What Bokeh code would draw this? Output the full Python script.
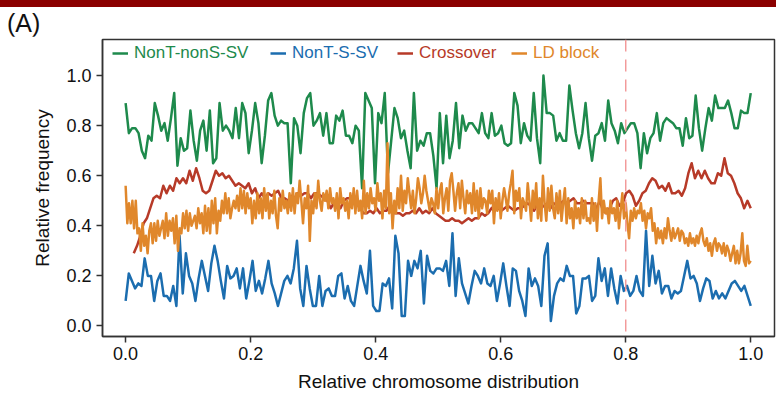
from bokeh.plotting import figure
from bokeh.layouts import column
from bokeh.models import (Range1d, Span, Legend, LegendItem, Div,
                          FixedTicker, NumeralTickFormatter)
from bokeh.embed import file_html
from bokeh.resources import INLINE
import numpy as np

# Relative frequency along the chromosome (0 = start, 1 = end)
nont_nons_sv = [
    0.89, 0.77, 0.79, 0.79, 0.77, 0.70, 0.67, 0.76, 0.74, 0.89, 0.84, 0.78, 0.81, 0.74, 0.83, 0.93,
    0.64, 0.75, 0.70, 0.71, 0.86, 0.74, 0.66, 0.78, 0.82, 0.70, 0.86, 0.65, 0.67, 0.89, 0.78, 0.80,
    0.78, 0.75, 0.87, 0.75, 0.89, 0.85, 0.69, 0.78, 0.89, 0.81, 0.65, 0.76, 0.90, 0.93, 0.84, 0.80,
    0.82, 0.81, 0.81, 0.57, 0.83, 0.80, 0.69, 0.85, 0.91, 0.93, 0.80, 0.82, 0.85, 0.76, 0.85, 0.73,
    0.73, 0.84, 0.82,
    0.86, 0.76, 0.76, 0.73, 0.80, 0.78, 0.55, 0.93, 0.90, 0.87, 0.57, 0.85, 0.81, 0.93, 0.61, 0.74,
    0.87, 0.83, 0.75, 0.78, 0.70, 0.63, 0.93, 0.70, 0.74, 0.72, 0.77, 0.77, 0.68, 0.55, 0.85, 0.65,
    0.84, 0.67, 0.74, 0.89, 0.71, 0.84, 0.78, 0.81, 0.81, 0.79, 0.77, 0.85, 0.77, 0.75, 0.85, 0.76,
    0.77, 0.80, 0.73, 0.72, 0.73, 0.93, 0.88, 0.73, 0.81, 0.76, 0.74, 0.93, 0.75, 0.65, 1.00, 0.85,
    0.85, 0.84, 0.74, 0.77, 0.74, 0.74, 0.96, 0.86, 0.77, 0.71, 0.77, 0.89,
    0.75, 0.66, 0.76, 0.77, 0.81, 0.74, 0.90, 0.81, 0.78, 0.73, 0.81, 0.77, 0.79, 0.81, 0.81, 0.77,
    0.63, 0.77, 0.69, 0.75, 0.77, 0.85, 0.74, 0.81, 0.83, 0.82, 0.81, 0.79, 0.79, 0.72, 0.83, 0.75,
    0.76, 0.92, 0.79, 0.70, 0.79, 0.87, 0.82, 0.92, 0.87, 0.87, 0.87, 0.90, 0.85, 0.79, 0.79, 0.86,
    0.85, 0.85, 0.93,
]

nont_s_sv = [
    0.10, 0.21, 0.18, 0.15, 0.17, 0.16, 0.27, 0.20, 0.20, 0.10, 0.18, 0.21, 0.12, 0.12, 0.10, 0.16,
    0.08, 0.36, 0.13, 0.29, 0.20, 0.17, 0.10, 0.19, 0.26, 0.20, 0.14, 0.25, 0.32, 0.26, 0.18, 0.11,
    0.24, 0.19, 0.20, 0.23, 0.15, 0.23, 0.11, 0.18, 0.26, 0.14, 0.18, 0.13, 0.19, 0.26, 0.17, 0.13,
    0.08, 0.13, 0.18, 0.20, 0.17, 0.23, 0.34, 0.15, 0.08, 0.24, 0.15, 0.08, 0.08, 0.20, 0.08, 0.14,
    0.15, 0.12, 0.12, 0.20, 0.21, 0.11, 0.16,
    0.10, 0.08, 0.16, 0.24, 0.18, 0.13, 0.30, 0.08, 0.06, 0.06, 0.17, 0.16, 0.19, 0.07, 0.36, 0.29,
    0.04, 0.04, 0.26, 0.20, 0.26, 0.23, 0.30, 0.09, 0.28, 0.22, 0.21, 0.23, 0.23, 0.22, 0.26, 0.16,
    0.37, 0.12, 0.27, 0.17, 0.13, 0.09, 0.16, 0.22, 0.20, 0.17, 0.23, 0.17, 0.16, 0.20, 0.10, 0.17,
    0.25, 0.16, 0.08, 0.23, 0.22, 0.14, 0.10, 0.04, 0.23, 0.16, 0.19, 0.16, 0.08, 0.28, 0.33, 0.02,
    0.12, 0.17, 0.19, 0.18, 0.24, 0.20, 0.20, 0.05, 0.08, 0.19, 0.19, 0.20, 0.10,
    0.12, 0.27, 0.18, 0.23, 0.12, 0.23, 0.15, 0.09, 0.20, 0.14, 0.16, 0.12, 0.14, 0.20, 0.14, 0.12,
    0.38, 0.16, 0.28, 0.17, 0.22, 0.13, 0.16, 0.16, 0.11, 0.14, 0.13, 0.14, 0.20, 0.26, 0.19, 0.20,
    0.17, 0.10, 0.15, 0.19, 0.18, 0.11, 0.14, 0.11, 0.13, 0.11, 0.14, 0.17, 0.18, 0.16, 0.14, 0.16,
    0.12, 0.08,
]

crossover_start = 0.013
crossover = [
    0.29, 0.32, 0.36, 0.41, 0.43, 0.47, 0.51, 0.52, 0.51, 0.56, 0.53, 0.56, 0.54, 0.59, 0.57, 0.59,
    0.57, 0.62, 0.58, 0.63, 0.59, 0.54, 0.53, 0.54, 0.58, 0.62, 0.60, 0.61, 0.59, 0.60, 0.58, 0.56,
    0.57, 0.56, 0.55, 0.57, 0.53, 0.55, 0.51, 0.53, 0.51, 0.53, 0.52, 0.53, 0.54, 0.51, 0.51, 0.50,
    0.52, 0.51, 0.53, 0.52, 0.53, 0.53, 0.51, 0.53, 0.53, 0.52, 0.51, 0.50, 0.47, 0.49, 0.49, 0.47,
    0.50, 0.51, 0.51,
    0.51, 0.49, 0.47, 0.45, 0.45, 0.46, 0.45, 0.47, 0.45, 0.46, 0.46, 0.48, 0.45, 0.45, 0.45, 0.44,
    0.45, 0.45, 0.46, 0.45, 0.47, 0.45, 0.46, 0.45, 0.47, 0.45, 0.44, 0.43, 0.42, 0.42, 0.43, 0.42,
    0.42, 0.41, 0.42, 0.43, 0.42, 0.43, 0.43, 0.45, 0.44, 0.45, 0.47, 0.48, 0.47, 0.46, 0.47, 0.48,
    0.47, 0.46, 0.47, 0.47, 0.48, 0.49, 0.48, 0.46, 0.49, 0.47, 0.48, 0.49, 0.47, 0.49, 0.48, 0.49,
    0.50, 0.49, 0.50, 0.51, 0.49, 0.49, 0.50, 0.49,
    0.49, 0.49, 0.47, 0.50, 0.46, 0.45, 0.47, 0.50, 0.51, 0.48, 0.49, 0.53, 0.54, 0.52, 0.48, 0.50,
    0.53, 0.54, 0.57, 0.59, 0.58, 0.55, 0.56, 0.54, 0.57, 0.53, 0.53, 0.54, 0.52, 0.55, 0.61, 0.65,
    0.59, 0.62, 0.59, 0.62, 0.59, 0.57, 0.57, 0.61, 0.60, 0.67, 0.61, 0.60, 0.57, 0.53, 0.51, 0.47,
    0.50, 0.47,
]

ld_block = [
    0.56, 0.41, 0.49, 0.41, 0.50, 0.39, 0.50, 0.37, 0.39, 0.30, 0.41, 0.32, 0.36, 0.29, 0.38, 0.41,
    0.33, 0.41, 0.34, 0.42, 0.36, 0.39, 0.42, 0.35, 0.45, 0.36, 0.42, 0.38, 0.43, 0.33, 0.44, 0.30,
    0.39, 0.37, 0.45, 0.39, 0.46, 0.38, 0.45, 0.40, 0.42, 0.44, 0.39, 0.47, 0.41, 0.45, 0.37, 0.48,
    0.38, 0.47, 0.37, 0.50, 0.41, 0.51, 0.37, 0.46, 0.42, 0.50, 0.45, 0.53, 0.45, 0.51, 0.43, 0.47,
    0.50, 0.47, 0.52, 0.46, 0.55, 0.47, 0.54, 0.45, 0.53, 0.47, 0.51, 0.41, 0.50, 0.43, 0.53, 0.45,
    0.51, 0.43, 0.55, 0.46, 0.53, 0.43, 0.50, 0.45, 0.54, 0.44, 0.39, 0.51, 0.46, 0.54, 0.47, 0.50,
    0.45, 0.53, 0.46, 0.55, 0.45, 0.53, 0.49, 0.58, 0.50, 0.41, 0.51, 0.47, 0.56, 0.34, 0.50, 0.45,
    0.53, 0.47, 0.58, 0.50, 0.46, 0.53, 0.50, 0.54, 0.47, 0.55, 0.49, 0.51, 0.46, 0.53, 0.43, 0.55,
    0.49,
    0.51, 0.46, 0.50, 0.43, 0.53, 0.47, 0.55, 0.45, 0.54, 0.46, 0.50, 0.43, 0.58, 0.45, 0.53, 0.47,
    0.55, 0.49, 0.51, 0.46, 0.57, 0.50, 0.53, 0.43, 0.54, 0.47, 0.73, 0.45, 0.53, 0.39, 0.50, 0.45,
    0.55, 0.47, 0.60, 0.46, 0.54, 0.49, 0.59, 0.53, 0.47, 0.54, 0.45, 0.51, 0.59, 0.55, 0.49, 0.53,
    0.60, 0.54, 0.50, 0.46, 0.51, 0.49, 0.45, 0.55, 0.47, 0.54, 0.57, 0.45, 0.51, 0.55, 0.46, 0.58,
    0.61, 0.54, 0.46, 0.53, 0.57, 0.47, 0.58, 0.51, 0.45, 0.54, 0.49, 0.53, 0.45, 0.57, 0.46, 0.54,
    0.43, 0.55, 0.47, 0.51, 0.50, 0.45, 0.54, 0.49, 0.54, 0.41, 0.51, 0.46, 0.53, 0.43, 0.50, 0.55,
    0.51, 0.46, 0.53, 0.57, 0.62, 0.45, 0.54, 0.50, 0.55, 0.43, 0.51, 0.49, 0.46, 0.57, 0.50, 0.42,
    0.54, 0.47, 0.57, 0.43, 0.51, 0.42, 0.60, 0.49, 0.42, 0.55, 0.46, 0.56, 0.47, 0.43, 0.53, 0.45,
    0.54, 0.42, 0.49, 0.55, 0.41, 0.51, 0.43, 0.47, 0.39, 0.50, 0.43, 0.47, 0.41, 0.51, 0.43, 0.50,
    0.42,
    0.43, 0.41, 0.51, 0.42, 0.49, 0.38, 0.50, 0.59, 0.43, 0.50, 0.45, 0.47, 0.41, 0.50, 0.45, 0.47,
    0.42, 0.50, 0.39, 0.46, 0.53, 0.43, 0.49, 0.41, 0.35, 0.46, 0.42, 0.47, 0.43, 0.46, 0.45, 0.49,
    0.42, 0.46, 0.39, 0.45, 0.43, 0.47, 0.38, 0.41, 0.33, 0.39, 0.35, 0.38, 0.33, 0.39, 0.35, 0.43,
    0.38, 0.34, 0.39, 0.35, 0.37, 0.39, 0.34, 0.38, 0.37, 0.33, 0.35, 0.32, 0.37, 0.33, 0.35, 0.32,
    0.36, 0.33, 0.37, 0.39, 0.34, 0.32, 0.35, 0.30, 0.33, 0.28, 0.33, 0.35, 0.30, 0.33, 0.32, 0.29,
    0.33, 0.28, 0.32, 0.30, 0.26, 0.29, 0.32, 0.25, 0.30, 0.25, 0.29, 0.37, 0.26, 0.24, 0.32, 0.25,
    0.26,
]

series_names = ["NonT-nonS-SV", "NonT-S-SV", "Crossover", "LD block"]
series_colors = ["#1E8A4C", "#1B6DAF", "#B73A28", "#E0872B"]
axis_ticks = [0.0, 0.2, 0.4, 0.6, 0.8, 1.0]
boundary = 0.8
panel_tag = "(A)"

FONT = "Liberation Sans"

fig = figure(width=776, height=359, output_backend="svg", toolbar_location=None,
             x_range=Range1d(-0.037, 1.038), y_range=Range1d(-0.042, 1.144),
             min_border_left=102, min_border_right=2, min_border_top=3, min_border_bottom=59,
             background_fill_color="white", border_fill_color="white", margin=(0, 0, 0, 0))
fig.grid.visible = False
fig.outline_line_color = "#333333"
fig.outline_line_width = 1.5

for ax in (fig.xaxis, fig.yaxis):
    ax.ticker = FixedTicker(ticks=axis_ticks)
    ax.formatter = NumeralTickFormatter(format="0.0")
    ax.axis_line_color = "#333333"
    ax.axis_line_width = 1.5
    ax.major_tick_line_color = "#333333"
    ax.major_tick_line_width = 1.5
    ax.major_tick_out = 6
    ax.major_tick_in = 0
    ax.minor_tick_line_color = None
    ax.major_label_text_font = FONT
    ax.major_label_text_font_size = "18px"
    ax.major_label_text_color = "#111111"
    ax.axis_label_text_font = FONT
    ax.axis_label_text_font_size = "19px"
    ax.axis_label_text_font_style = "normal"
    ax.axis_label_text_color = "#111111"

fig.xaxis.axis_label = "Relative chromosome distribution"
fig.yaxis.axis_label = "Relative frequency"
fig.xaxis.major_label_standoff = 4
fig.yaxis.major_label_standoff = 5
fig.xaxis.axis_label_standoff = 8
fig.yaxis.axis_label_standoff = 10

xs = [
    np.linspace(0.0, 1.0, len(nont_nons_sv)),
    np.linspace(0.0, 1.0, len(nont_s_sv)),
    np.linspace(crossover_start, 1.0, len(crossover)),
    np.linspace(0.0, 1.0, len(ld_block)),
]
ys = [nont_nons_sv, nont_s_sv, crossover, ld_block]

renderers = []
for x, y, col in zip(xs, ys, series_colors):
    renderers.append(fig.line(x, y, line_color=col, line_width=2.5, line_join="round"))

fig.add_layout(Span(location=boundary, dimension="height", line_color="#F29A9A",
                    line_width=1.5, line_dash="12 8"))

legend_x = [10, 168, 295, 409]
for r, name, col, lx in zip(renderers, series_names, series_colors, legend_x):
    leg = Legend(items=[LegendItem(label=name, renderers=[r])], location=(lx, 273),
                 orientation="horizontal", padding=0, margin=0, spacing=0,
                 border_line_color=None, background_fill_alpha=0,
                 label_text_color=col, label_text_font=FONT, label_text_font_size="17px",
                 glyph_width=16, glyph_height=20, label_standoff=6, label_height=20)
    fig.add_layout(leg, "center")

# header: dark red strip with the panel tag underneath
header = Div(
    text=(
        '<div style="position:relative;width:776px;height:36px;">'
        '<div style="position:absolute;left:0;top:0;width:776px;height:7px;'
        'background:#8B0000;"></div>'
        '<div style="position:absolute;left:7px;top:8px;font-family:\'Liberation Sans\';'
        'font-size:25px;line-height:30px;color:#111111;">' + panel_tag + '</div>'
        '</div>'
    ),
    width=776, height=36, margin=(0, 0, 0, 0),
)

p = column(header, fig, spacing=0)

open("out.html", "w").write(file_html(p, INLINE))
